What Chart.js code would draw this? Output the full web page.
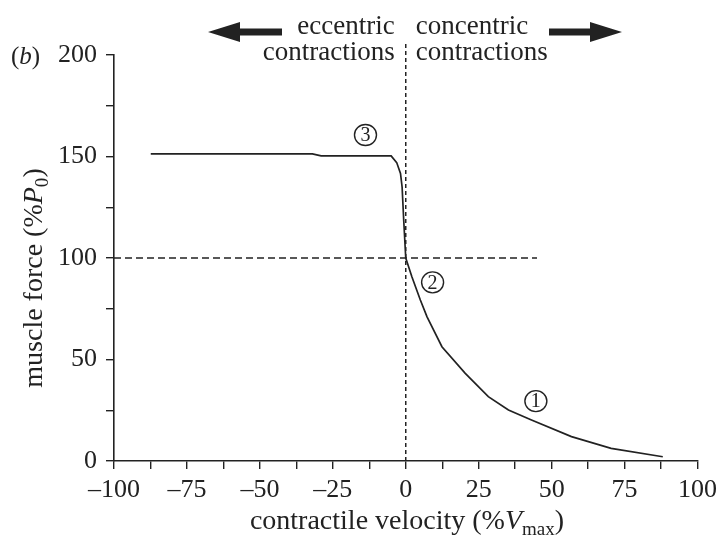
<!DOCTYPE html>
<html>
<head>
<meta charset="utf-8">
<script src="https://cdn.jsdelivr.net/npm/chart.js@4/dist/chart.umd.min.js"></script>
<style>
  html, body { margin: 0; padding: 0; background: #fff; }
  #wrap { width: 723px; height: 536px; }
</style>
</head>
<body>
<div id="wrap"><canvas id="c" width="723" height="536"></canvas></div>
<script>
// Force–velocity relation of muscle: velocity in % of Vmax, force in % of P0
const velocity = [-87.4, -32, -29, -5, -3.1, -1.8, -1.25, -0.7, 0, 2.1, 5, 7.3, 12.4, 20.4, 28.3, 35.2, 43.1, 56.8, 70.4, 88.1];
const force    = [151.3, 151.3, 150.3, 150.3, 147, 141.7, 135, 118.7, 100, 90.8, 79.3, 71, 56.3, 43.2, 31.7, 25.1, 20.2, 12, 6.2, 2.1];

// isometric reference lines
const isoForceLine = { x: [-100, 45], y: [100, 100] };
const zeroVelocityLine = { x: [0, 0], y: [0, 206] };

// axis ticks (labels on the multiples, minor ticks in between)
const xTickValues = [-100, -87.5, -75, -62.5, -50, -37.5, -25, -12.5, 0, 12.5, 25, 37.5, 50, 62.5, 75, 87.5, 100];
const xTickLabels = [-100, -75, -50, -25, 0, 25, 50, 75, 100];
const yTickValues = [0, 25, 50, 75, 100, 125, 150, 175, 200];
const yTickLabels = [0, 50, 100, 150, 200];

// circled region markers
const markers = [
  { label: '1', x: 44.6, y: 29.5 },
  { label: '2', x: 9.2, y: 88 },
  { label: '3', x: -13.8, y: 160.6 }
];

const INK = '#222';
const SERIF = '"Liberation Serif", "DejaVu Serif", serif';

const toPoints = (xs, ys) => xs.map((x, i) => ({ x, y: ys[i] }));
const fmt = v => (v < 0 ? '\u2013' + Math.abs(v) : String(v));

// draw a run of text pieces with mixed styles, starting at x
function drawPieces(ctx, pieces, x, y, size) {
  let cx = x;
  for (const p of pieces) {
    const s = p.sub ? size * 0.68 : size;
    ctx.font = (p.italic ? 'italic ' : '') + s + 'px ' + SERIF;
    ctx.fillText(p.t, cx, y + (p.sub ? size * 0.22 : 0));
    cx += ctx.measureText(p.t).width;
  }
  return cx - x;
}
function measurePieces(ctx, pieces, size) {
  let w = 0;
  for (const p of pieces) {
    const s = p.sub ? size * 0.68 : size;
    ctx.font = (p.italic ? 'italic ' : '') + s + 'px ' + SERIF;
    w += ctx.measureText(p.t).width;
  }
  return w;
}

function arrow(ctx, tail, tip, cy, headLen, headHalf, shaftHalf) {
  const dir = Math.sign(tip - tail);
  const base = tip - dir * headLen;
  ctx.beginPath();
  ctx.moveTo(tail, cy - shaftHalf);
  ctx.lineTo(base, cy - shaftHalf);
  ctx.lineTo(base, cy - headHalf);
  ctx.lineTo(tip, cy);
  ctx.lineTo(base, cy + headHalf);
  ctx.lineTo(base, cy + shaftHalf);
  ctx.lineTo(tail, cy + shaftHalf);
  ctx.closePath();
  ctx.fill();
}

const decorations = {
  id: 'decorations',
  afterDraw(chart) {
    const { ctx, scales: { x, y } } = chart;
    ctx.save();
    ctx.fillStyle = INK;
    ctx.strokeStyle = INK;
    ctx.textBaseline = 'alphabetic';

    // panel letter
    ctx.textAlign = 'left';
    drawPieces(ctx, [{ t: '(' }, { t: 'b', italic: true }, { t: ')' }], 11, 64, 25);

    // contraction type headings
    const zx = x.getPixelForValue(0);
    ctx.font = '27px ' + SERIF;
    ctx.textAlign = 'right';
    ctx.fillText('eccentric', zx - 11, 34);
    ctx.fillText('contractions', zx - 11, 60);
    ctx.textAlign = 'left';
    ctx.fillText('concentric', zx + 10, 34);
    ctx.fillText('contractions', zx + 10, 60);

    // direction arrows
    arrow(ctx, 282, 208, 32, 32, 10, 3.4);
    arrow(ctx, 549, 622, 32, 32, 10, 3.4);

    // x axis title
    const xt = [{ t: 'contractile velocity (%' }, { t: 'V', italic: true }, { t: 'max', sub: true }, { t: ')' }];
    const xs = 28;
    const xw = measurePieces(ctx, xt, xs);
    ctx.textAlign = 'left';
    drawPieces(ctx, xt, 407 - xw / 2, 529, xs);

    // y axis title, rotated
    const yt = [{ t: 'muscle force (%' }, { t: 'P', italic: true }, { t: '0', sub: true }, { t: ')' }];
    const ys = 28;
    const yw = measurePieces(ctx, yt, ys);
    ctx.save();
    ctx.translate(42, 278);
    ctx.rotate(-Math.PI / 2);
    drawPieces(ctx, yt, -yw / 2, 0, ys);
    ctx.restore();

    // circled markers
    for (const m of markers) {
      const px = x.getPixelForValue(m.x);
      const py = y.getPixelForValue(m.y);
      ctx.lineWidth = 1.4;
      ctx.beginPath();
      ctx.ellipse(px, py, 11, 10.5, 0, 0, Math.PI * 2);
      ctx.stroke();
      ctx.font = '20px ' + SERIF;
      ctx.textAlign = 'center';
      ctx.textBaseline = 'middle';
      ctx.fillText(m.label, px, py + 1);
      ctx.textBaseline = 'alphabetic';
    }
    ctx.restore();
  }
};

new Chart(document.getElementById('c'), {
  type: 'scatter',
  data: {
    datasets: [
      {
        data: toPoints(velocity, force),
        showLine: true,
        borderColor: INK,
        borderWidth: 1.7,
        pointRadius: 0,
        tension: 0
      },
      {
        data: toPoints(isoForceLine.x, isoForceLine.y),
        showLine: true,
        borderColor: INK,
        borderWidth: 1.5,
        borderDash: [7, 4],
        pointRadius: 0
      },
      {
        data: toPoints(zeroVelocityLine.x, zeroVelocityLine.y),
        showLine: true,
        borderColor: INK,
        borderWidth: 1.5,
        borderDash: [4, 3],
        pointRadius: 0,
        clip: false
      }
    ]
  },
  options: {
    responsive: false,
    animation: false,
    events: [],
    layout: { padding: { left: 0, right: 23, top: 55, bottom: 0 } },
    plugins: { legend: { display: false }, tooltip: { enabled: false } },
    scales: {
      x: {
        type: 'linear',
        min: -100,
        max: 100,
        afterBuildTicks: s => { s.ticks = xTickValues.map(v => ({ value: v })); },
        afterFit: s => { s.height = 75; },
        ticks: {
          autoSkip: false,
          maxRotation: 0,
          padding: 6,
          color: INK,
          font: { family: SERIF, size: 26 },
          callback: v => (xTickLabels.includes(v) ? fmt(v) : '')
        },
        grid: { drawOnChartArea: false, drawTicks: true, tickLength: 8, color: INK, lineWidth: 1.4 },
        border: { display: true, color: INK, width: 1.6 }
      },
      y: {
        type: 'linear',
        min: 0,
        max: 200,
        afterBuildTicks: s => { s.ticks = yTickValues.map(v => ({ value: v })); },
        afterFit: s => { s.width = 114; },
        ticks: {
          autoSkip: false,
          padding: 9,
          color: INK,
          font: { family: SERIF, size: 26 },
          callback: v => (yTickLabels.includes(v) ? String(v) : '')
        },
        grid: { drawOnChartArea: false, drawTicks: true, tickLength: 8, color: INK, lineWidth: 1.4 },
        border: { display: true, color: INK, width: 1.6 }
      }
    }
  },
  plugins: [decorations]
});
</script>
</body>
</html>
